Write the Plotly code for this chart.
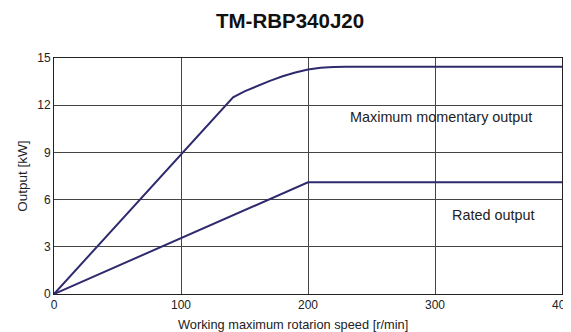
import plotly.graph_objects as go

max_speed = [0, 141, 150, 160, 170, 180, 190, 200, 210, 220, 230, 400]
max_output = [0, 12.5, 12.88, 13.22, 13.55, 13.84, 14.08, 14.27, 14.38, 14.43, 14.45, 14.45]
rated_speed = [0, 200, 400]
rated_output = [0, 7.1, 7.1]
x_ticks = [0, 100, 200, 300, 400]
y_ticks = [0, 3, 6, 9, 12, 15]

line_color = "#2e2a6e"
txt = "#222222"
fam = "Arial, Liberation Sans"
fig = go.Figure()
fig.add_trace(go.Scatter(x=max_speed, y=max_output, mode="lines",
                         line=dict(color=line_color, width=2),
                         showlegend=False))
fig.add_trace(go.Scatter(x=rated_speed, y=rated_output, mode="lines",
                         line=dict(color=line_color, width=2),
                         showlegend=False))

fig.add_annotation(x=304.5, y=11.27, text="Maximum momentary output", showarrow=False,
                   font=dict(size=14.4, color=txt, family=fam))
fig.add_annotation(x=345.7, y=5.02, text="Rated output", showarrow=False,
                   font=dict(size=14.4, color=txt, family=fam))
fig.add_annotation(xref="paper", yref="paper", x=0.4705, y=-0.131, xanchor="center", yanchor="middle",
                   text="Working maximum rotarion speed [r/min]", showarrow=False,
                   font=dict(size=12.8, color=txt, family=fam))
fig.add_annotation(xref="paper", yref="paper", x=-0.0635, y=0.5, xanchor="center", yanchor="middle",
                   text="Output [kW]", textangle=-90, showarrow=False,
                   font=dict(size=13.5, color=txt, family=fam))

fig.update_layout(
    width=563, height=324,
    margin=dict(l=46, r=9, t=50, b=38, autoexpand=False),
    paper_bgcolor="white", plot_bgcolor="white",
    font=dict(family=fam, size=12, color=txt),
    title=dict(text="<b>TM-RBP340J20</b>", x=0.501, xanchor="center", y=0.961, yanchor="middle",
               font=dict(size=20.5, color="#111111")),
    xaxis=dict(range=[0, 400], tickvals=x_ticks, showgrid=True, gridcolor="#444444", gridwidth=1,
               zeroline=False, showline=True, linecolor="#222222", linewidth=1, mirror=True,
               ticks="", ticklen=0, automargin=False, ticklabeloverflow="allow"),
    yaxis=dict(range=[0, 15], tickvals=y_ticks, showgrid=True, gridcolor="#444444", gridwidth=1,
               zeroline=False, showline=True, linecolor="#222222", linewidth=1, mirror=True,
               ticks="", ticklen=0, automargin=False, ticklabeloverflow="allow"),
)
fig.write_html("out.html")
